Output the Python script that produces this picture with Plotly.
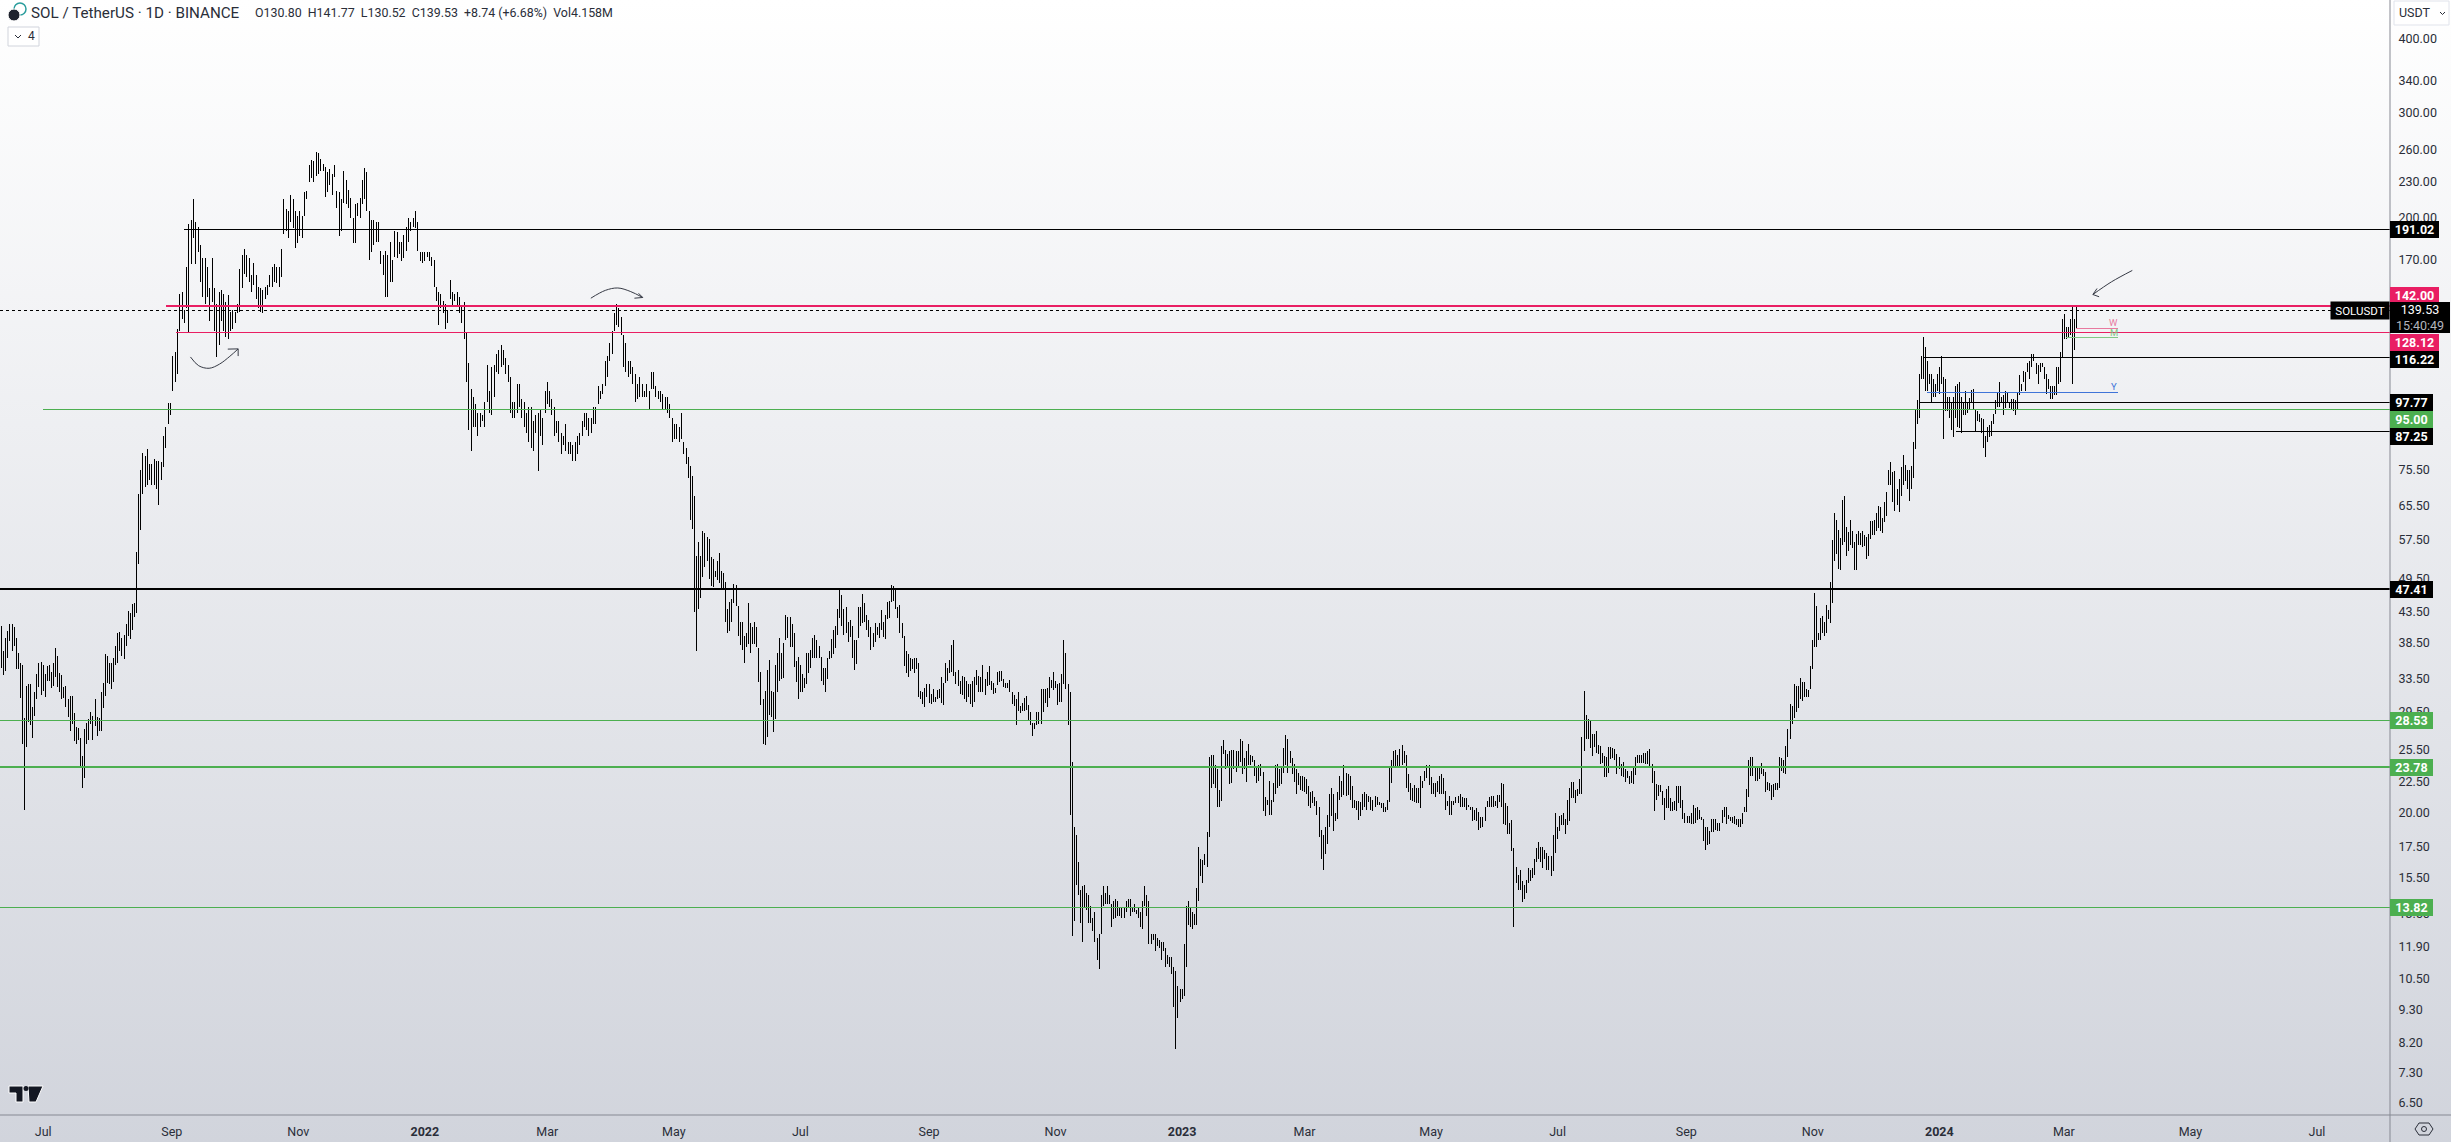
import numpy as np
import pandas as pd
import plotly.graph_objects as go

# ---------- price bars, in stretches of time ----------
H_2021A = [41.2,37.4,39.2,40.4,41.5,41.5,41.0,39.3,37.1,35.7,35.3,28.8,32.6,32.8,32.8,30.1,31.9,34.2,35.6,35.8,35.4,34.2,35.2,35.3,34.4,35.6,37.8,36.6,34.3,34.0,32.5,32.6,31.0,31.4,31.4,29.4,27.8,27.7,26.7,24.9,27.6,28.2,28.7,29.5,29.0,31.0,28.9,28.8,31.8,33.0,36.9,36.6,35.7,35.7,36.4,38.0,40.1,40.2,39.3,39.7,41.5,43.6,43.3,44.8,44.9,54.8,68.5,75.2]
L_2021A = [35.0,34.0,34.5,36.4,38.8,37.3,38.0,34.8,34.8,31.1,26.0,20.2,25.7,28.4,28.0,26.7,29.0,31.0,32.5,31.5,32.0,31.2,33.2,33.3,32.3,32.6,33.7,32.5,31.9,31.0,31.1,30.0,28.9,27.4,28.1,26.3,26.0,26.4,23.9,22.0,22.8,26.0,26.5,28.1,26.5,27.9,26.9,27.4,27.4,29.9,31.4,33.0,32.8,32.2,33.1,35.4,35.6,37.3,36.6,36.2,38.0,39.5,39.1,40.5,42.6,43.3,52.3,59.7]

H_2021B = [80.5,79.5,81.5,77,77,78.5,78,78,77.5,86,89,97.7,97.7,117,119,130,149,150,140,165,195,198,215,197,193,180,171,171,165,152,171,152,143,150,151,149,144,148,139,140,139,143,164,173,177,173,171,160,168,160,153,152,151,153,154,160,165,167,165,165,177,215,207,205,218,215,205,201,205,201,221,222,245,250,249,258,257,251,246,243,239,241,237,245,222,221,215,240,231,223,216,200,211,212,216,231,242,239,205,198,198,197,197,176,173,176,173,182,170,190,189,182,182,187,193,200,197,200,205,197,175,175,175,175,175,172,170,153,150,149,145,143,140,157,150,149,150,147,142,144,128,114,103,100,97,94,94,93,98,113,102,112,113,118,120,122,120,116,113,108,98,98,105,105,99,98,94,96,96,91,93,94,95,92,102,106,102,99,96,91,91,87,86,90,84,84,83,84,86,87,91,94,94,92,92,96,96,104,102,105,115,117,123,129,138,143,141,136,127,123,115,115,112,109,105,108,105,102,105,102,110,110,104,102,102,101,100,100,97,92,90,90,89,94,84,82,79]
L_2021B = [68.7,70.4,71,72.5,71,71,70,65.7,72.5,76,82,90,93,102,106,109,129,135,133,141,128,167,185,167,175,156,147,143,147,134,144,129,116.6,122,134,129,126,125,129,130,133,138,139,152,161,159,156,150,154,146,141,139,138,146,148,153,153,156,155,153,159,188,190,185,197,192,178,181,186,185,201,215,230,233,230,235,237,240,240,217,221,227,218,234,208,186,190,212,211,208,200,181,181,201,200,211,215,205,170,175,180,182,182,167,160,147,147,156,156,172,171,174,169,171,176,182,190,193,192,176,169,168,169,172,169,166,153,145,132,141,138,130,133,146,142,145,142,138,133,125,106,88,81,89,89,86,89,91,89,98,94,93,100,110,109,112,113,109,106,94,92,92,94,96,92,89,87,84,82,81,87,75,86,83,94,97,96,93,86,87,84,80,83,81,80,80,78,78,80,83,86,89,88,86,87,90,90,97,99,101,104,108,115,118,129,132,131,127,112,110,108,109,105,98,99,100,100,100,100,95,103,103,100,99,98,95,95,94,92,84,85,85,84,85,80,77,73]

H_2022 = [76.5,73.6,68,54,57,54,59.5,59,58,57.7,53.8,53.4,50.9,53,54.5,50.8,50.5,48.8,44,45.1,45.7,48.4,48.2,44.5,41.7,41.7,39.5,40.1,45,41.6,41,41.8,41,37.8,34.4,31,32,34.7,36,32,31.9,35.3,37,39.2,37,38.5,43,42.6,42.6,41.4,40.1,35.9,36.5,35.3,34.2,33.6,37,37,37.5,39.2,39.7,38.9,38.1,36.5,35,34.9,36.3,37.3,39.1,40.5,41.2,44,47.4,46.3,44,44.3,41.8,42.1,41.2,38.9,39,44.3,44.3,46.6,45,43,42.1,41,40.1,41.6,41,41.6,43.7,41.7,43,45.2,45.4,48.2,48,47.5,44.3,44.7,41.6,39.5,37.3,36.9,36.4,36.2,36.4,36.4,35.6,32,31.9,32.4,32.8,32.8,31.6,32.2,31.2,32.1,32.2,33.8,33,35.7,35,36,38.2,38.9,34.4,34.7,33.2,33.9,33.8,33.2,32.8,32.8,33.3,33.8,34.7,33.9,33.8,35.3,33.5,34.4,35.2,33.2,33,32.4,34.4,34.5,34.6,33.5,33,33,33.4,31.9,31.5,31,31.8,30.2,30.5,31.1,31.4,30.3,29.5,28.3,28.3,29.5,29.5,32.2,32.2,32.2,32.4,33.8,33.4,34.4,33.3,32.8,33,34.1,38.9,37,32.8]
L_2022 = [62,60,43.4,37.3,44,45.8,49.8,51.7,52.9,49.4,48,47.8,49.7,49.1,48.5,47.2,47.2,41.8,40,40.3,41.8,44.9,44.5,39.6,38.2,37.5,35.6,37.9,38.4,37,38.4,38.4,37.9,33.1,30.3,26,25.9,26.8,29.1,28.9,27.3,28.7,31.8,33.3,33.5,33.6,38.9,39.2,37.9,37.9,35.1,33.1,31,31.9,31.9,32.4,32.8,34.3,35,36.4,36.4,36.4,36.4,33.2,32.7,31.9,33.5,36.2,36.4,36.9,37.7,39.7,42.5,41.2,39.7,40,38.6,39.4,36.4,34.7,35.5,39.2,41.2,41.6,41.8,40.5,39.4,37.5,37.9,38.6,39.7,39.2,40.5,39.4,39.1,42.2,42.5,45.2,45.4,44,42.5,40.1,39.2,35.2,34.3,33.8,34.6,34.8,34.3,34.8,31.2,31,30.4,30,31.2,30.5,30.4,30.7,30.7,31,31.1,30.5,30.3,33,33.3,34.3,34.4,33.9,32.8,32.6,31.6,31.5,31,30.7,31.2,30.4,30.1,30.7,32.7,31.8,31.8,31.8,31.5,32.6,32.7,32.1,31.6,31.7,32.7,33.1,33.3,32.5,32.4,32.3,31.8,30.4,30.2,28,29.6,29.4,29.6,29.6,29.7,28.5,28,26.9,27.6,28,28.1,28.1,29.5,30.5,30.1,31.1,32.3,32.1,32.3,30.3,30.7,30.7,32.8,32.2,28]

H_2023A = [31.8,24.3,18.9,18.3,16.5,14.8,15,15.1,14.6,14.5,13.9,13.3,13.6,12.3,12.5,14.5,15,14.6,15,14.5,14,14.2,14.3,14.2,13.8,13.8,13.8,14.2,14.3,14.3,13.8,14,13.7,13.8,13.6,14.2,15,14.5,14.2,12.5,12.5,12.5,12.3,12.2,12.1,12.1,11.8,11.5,11.4,11.4,11,10.8,10.2,10.1,10.1,12,13.9,14.2,13.8,13.6,13.5,14.9,17.5,16.7,16.6,17,18.5,24.8,25,25,24,23.6,21.8,25.8,26.5,25.4,25.1,25.3,25.4,25.4,25.3,25.3,26.6,26.3,24.7,25.3,26,25,24.9,24.5,23.7,24,24.1,23.4,21.2,21,22.6,21,22.4,24,24.1,23.6,23.9,25.6,27,26.6,25.3,24.7,24.1,23.6,23.3,23,23,22.9,22.7,22.1,21.6,21.7,21.2,20.9,20.4,18.7,18.3,18.9,19.8,21.5,22,21.5,19.9,21.6,23,22.6,24,23.3,23.2,23,22.1,21,20.9,20.9,20.8,21.5,21.6,21.5,21.3,21.2,21,21.3,21.2,20.8,20.7,20.7,20.4,21,23.7,24.5,25.3,25.4,25,25.5,25.9,25.3,25,23.2,22.4,22,22.2,22,22,23,22.6,23.5,24,24,22.9,22.4,22.4,22.6,23,23.2,22.8,21.7,20.9,21.3,20.9,20.9,21.2,21.3,21.5,21.2,21.1,21.1,20.6,20.4,20.4,20.2,20.3,20,19.6,19.6,20.4,20.9,21.2,21.3,21.3,20.9,21.4]
L_2023A = [19.8,12.4,13.1,15.1,14.5,13,12.1,13.8,13.7,13,13,12.6,12.1,11.3,10.9,12.5,13.9,14,14,14,12.8,13.2,13.3,13.4,13.4,13.3,13.3,13.6,13.8,13.4,13.6,13.6,13.5,13.3,12.8,12.7,13.9,13.4,12,12,12.2,11.7,11.9,11.8,11.3,11.7,11,11.1,11,10.7,9.4,8,9,9.6,9.7,9.8,11,12.9,12.8,12.7,12.9,12.9,14.2,15.6,15.2,16.3,16.2,18.2,22,22.3,22,20.4,20.4,20.9,25.1,23.6,23.7,22.3,22.4,23.6,23.4,23.7,24.3,23.2,23.6,22.5,24,24,24.3,23,22.4,22.6,23,20.1,19.7,20.6,19.8,19.8,20.8,21.5,22,22.1,22.3,23.3,24,23.3,24.2,23.2,22.5,21.5,22.2,21.8,21.7,21.6,21.5,20.5,20.3,20.7,20.5,19.8,18.2,16.7,16,17,17.7,18.9,19.7,18.6,19.3,19.5,21,21.2,21.4,21.3,21.4,21,20.3,20.3,20.2,19.4,19.7,20.2,20.4,20.2,20.8,20.2,20.1,20.4,20.6,20.6,20.3,20,20,20.2,20.8,22.4,23.7,23.7,23.9,23.9,24,24.2,22,21.6,21,20.9,20.8,20.7,20.7,20.3,22,22.6,22.8,22.2,21.5,21.5,21.2,21.6,21.5,21.5,21.5,20.2,20.5,19.8,19.8,20.6,20.7,20.7,20.4,20.4,20.4,20.2,20.4,20.2,19.3,19.4,19.3,18.7,18.8,18.9,19.3,20.4,20.4,20.4,20.4,20.5,20.3]

H_2023B = [21.4,22.4,22.3,20.7,20.5,19.2,19.4,17.4,16.2,15.7,16,15.3,15.1,15.4,16.1,16,16.1,16.7,17.4,17.8,17.5,17.5,17.3,17.1,16.9,16.9,18.3,19.9,18.9,19.7,19.8,19.9,19.5,21,22,22.5,22.5,21.8,21.9,22.7,26.8,32,29.1,28.7,28.6,27.1,27.1,27.4,25.9,25.8,25.2,24.9,24.8,25.7,25.7,25.6,25.5,25.1,24.8,24.1,24.3,23.6,23.5,23,23.5,23.7,24.8,25,25,25,25.2,25.2,25.3,25.5,24.1,23.5,22.3,22.2,22.2,21.7,21.1,21.9,22.1,21.1,20.8,20.9,22.1,22.1,22.1,21,19.9,19.7,19.7,19.9,20.6,20.3,20.4,20.2,19.6,19.5,18.9,18.9,18.6,19.5,19.5,19.5,19.2,19.2,20.2,20.4,20.4,19.8,19.6,19.6,19.7,19.5,19.5,19.5,19.9,20.4,21.9,24.5,24.8,24.8,23.9,23.9,23.8,24.2,23.6,23.4,22.5,22.4,22.2,22.3,22.4,22.4,24.8,24.7,24.5,25.8,27.6,30.4,30.2,32.9,32.6]
L_2023B = [20.8,20.4,19.1,19,18.4,18.4,17.2,12.8,15.2,14.8,14.8,14.1,14.3,14.6,15.2,15.3,15.5,15.7,16.5,16.7,16.5,16.1,16.7,16,16,15.6,15.9,17.1,18,18.6,19,19,18.4,19,19.3,21.1,21.1,20.7,21.3,21.5,21.5,25.3,26.6,26.6,25.6,24.9,25.7,25.2,25.1,24.1,24.2,22.9,22.9,23.3,24.6,24.7,24.5,23.2,23.6,23,22.9,22.5,22.8,22.3,22.4,22.3,23.1,24.2,24.2,24.2,24.2,24.1,24.1,23.9,22.4,20.1,21,21.3,21.6,20.6,19.4,20.3,20.3,20.1,20.1,20.2,20.1,20.7,20.3,19.5,19.2,19.2,19.2,19.1,19.1,19.2,19.4,19.5,19.4,17.9,17.3,17.6,17.7,18.5,18.5,18.7,18.6,18.6,19.2,19.6,19.1,19.5,19.3,19.2,19.1,19,18.9,18.9,19.1,20,20,21.2,23,23,22.6,22.6,22.7,23.2,23,21.6,21.8,21.7,21,21.2,21.8,21.8,22,23.5,23.3,23.2,24.8,26.6,28.1,28.8,29.5]

H_2024 = [32.6,33.6,33.1,33.1,32.2,32.1,35.2,38.9,46.7,44.4,40,42.5,42.7,41.7,44.6,43.7,48.8,57.4,63.8,61.9,59.7,57.8,66.9,68.1,60.3,59.2,62,59.4,57,58.7,59.4,59,59.5,58.6,58,58.7,61.7,61.8,61.9,63.8,65.5,65.3,62.5,66.6,69.2,75.2,77.6,74.6,74.9,69.9,72.7,76.2,79.7,76.8,75.2,75.3,76.3,83.8,95.2,98.7,109,117,126,121,115,109,109,107,105,109,112,117,108,107,100,100,97.6,99.9,104,105,106,99.9,98,102,97.6,99.3,102.6,103,95.2,94.7,93.5,92,91.8,86,89,89.5,91,93.5,98.7,101.9,106,100,100.7,102,101.5,98,99,99,98.7,101.5,108.6,105,110.5,110,114,115,118,118,114,113,114,114,112,109,107,104,104,104,112,112,119,135,137.6,131,131,135,142.5,135,141.77]
L_2024 = [29.9,31,30.8,31.3,31.2,31.2,32.2,34.8,37.9,37.9,38.9,38.9,40,39.6,40,42.3,41.6,45,53,54.4,51.2,51,56.2,56.9,54,55.1,56.2,55.6,51,51,56.3,56.3,55.8,56.1,53.4,53.9,57.7,58.4,58.6,59.4,60.1,59.5,59,61.6,63.1,71,71,66.5,64.1,65.6,63.9,68,71,72,70,66.7,70,73,81.5,90,92,107,107,102,102,105,97.5,100,100,102,101,105,85,94.6,94.6,92,88,85.4,92,88.9,88.7,87,93,93.3,93.9,95,98,95.4,87.3,91,90.5,87,81.9,79,83.9,85.4,85.9,89.9,93.4,95.9,96,98,93.2,95.8,97.5,95.6,95,94.4,93.2,95,100.7,102,106,102,110,107,112,115,109,105,110,112,107,101,103,99,99,100.5,100.7,105,106,116.6,125,125,126,127,105,120,130.52]

SEGMENT_DATES = [
    ("2021-06-11", "2021-08-17"), ("2021-08-18", "2022-05-08"), ("2022-05-09", "2022-11-07"),
    ("2022-11-08", "2023-06-02"), ("2023-06-03", "2023-10-24"), ("2023-10-25", "2024-03-07"),
]
SEGMENT_HIGHS = [H_2021A, H_2021B, H_2022, H_2023A, H_2023B, H_2024]
SEGMENT_LOWS = [L_2021A, L_2021B, L_2022, L_2023A, L_2023B, L_2024]

# ---------- levels drawn on the chart ----------
LEVEL_VALUES = [191.02, 142.00, 128.12, 116.22, 97.77, 95.00, 87.25, 47.41, 28.53, 23.78, 13.82]
LEVEL_STARTS = ["2021-09-07", "2021-08-29", "2021-09-03", "2023-12-24", "2023-12-22", "2021-07-01", "2024-01-09",
                "2021-06-01", "2021-06-01", "2021-06-01", "2021-06-01"]
LEVEL_COLORS = ["#000000", "#e91e63", "#e91e63", "#000000", "#000000", "#4caf50", "#000000",
                "#000000", "#4caf50", "#4caf50", "#4caf50"]
LEVEL_WIDTHS = [1, 2, 1, 1, 1, 1, 1, 2, 1, 2, 1]

SHORT_LABELS = ["W", "M", "Y"]
SHORT_VALUES = [130.0, 125.6, 101.7]
SHORT_STARTS = ["2024-03-07", "2024-03-02", "2023-12-26"]
SHORT_END = "2024-03-27"
SHORT_COLORS = ["#e8799f", "#81c784", "#3f74d8"]

CURRENT_PRICE = 139.53
X_START, X_END = "2021-06-10 05:00", "2024-08-05 05:00"

Y_TICKS = [400, 340, 300, 260, 230, 200, 170, 75.5, 65.5, 57.5, 49.5, 43.5, 38.5, 33.5, 29.5, 25.5, 22.5,
           20, 17.5, 15.5, 13.5, 11.9, 10.5, 9.3, 8.2, 7.3, 6.5]
X_TICKS = ["2021-07-01", "2021-09-01", "2021-11-01", "2022-01-01", "2022-03-01", "2022-05-01", "2022-07-01",
           "2022-09-01", "2022-11-01", "2023-01-01", "2023-03-01", "2023-05-01", "2023-07-01", "2023-09-01",
           "2023-11-01", "2024-01-01", "2024-03-01", "2024-05-01", "2024-07-01"]
X_LABELS = ["Jul", "Sep", "Nov", "<b>2022</b>", "Mar", "May", "Jul", "Sep", "Nov", "<b>2023</b>", "Mar", "May", "Jul",
            "Sep", "Nov", "<b>2024</b>", "Mar", "May", "Jul"]

# hand-drawn arrows
ARROW1_X = ["2021-09-10", "2021-09-14", "2021-09-19", "2021-09-24", "2021-09-29", "2021-10-03"]
ARROW1_Y = [116.6, 112.7, 111.6, 113.4, 116.9, 120.3]
ARROW1_HEAD_X = ["2021-09-28", "2021-10-03", "2021-10-03"]
ARROW1_HEAD_Y = [120.2, 120.3, 117.0]
ARROW2_X = ["2022-03-22", "2022-03-29", "2022-04-04", "2022-04-10", "2022-04-16"]
ARROW2_Y = [146.4, 150.9, 152.3, 150.3, 146.8]
ARROW2_HEAD_X = ["2022-04-12", "2022-04-16", "2022-04-14"]
ARROW2_HEAD_Y = [146.4, 146.8, 149.2]
ARROW3_X = ["2024-04-03", "2024-03-24", "2024-03-15"]
ARROW3_Y = [163, 156, 148.5]
ARROW3_HEAD_X = ["2024-03-18", "2024-03-15", "2024-03-17"]
ARROW3_HEAD_Y = [147.2, 148.5, 152]

# ---------- figure ----------
W, H, PW, PH = 2451, 1142, 2390, 1115
FONT = "Roboto"
TEXT = "#2a2e39"
px = lambda v: v / PW
py = lambda v: 1 - v / PH

fig = go.Figure()
dates = []
for (a, b), hs in zip(SEGMENT_DATES, SEGMENT_HIGHS):
    dates.extend(pd.date_range(a, b, periods=len(hs)))
highs = sum(SEGMENT_HIGHS, [])
lows = sum(SEGMENT_LOWS, [])
fig.add_trace(go.Ohlc(x=dates, open=lows, high=highs, low=lows, close=highs, tickwidth=0,
                      increasing=dict(line=dict(color="#000000", width=1)),
                      decreasing=dict(line=dict(color="#000000", width=1)), showlegend=False))

def hline(x0, x1, v, color, width, dash="solid"):
    fig.add_trace(go.Scatter(x=[x0, x1], y=[v, v], mode="lines", showlegend=False,
                             line=dict(color=color, width=width, dash=dash)))

hline(X_START, X_END, CURRENT_PRICE, "#000000", 1, "dot")
for v, s, c, w in zip(LEVEL_VALUES, LEVEL_STARTS, LEVEL_COLORS, LEVEL_WIDTHS):
    hline(s, X_END, v, c, w)
for v, s, c in zip(SHORT_VALUES, SHORT_STARTS, SHORT_COLORS):
    hline(s, SHORT_END, v, c, 1)

for cx, cy, hx, hy in [(ARROW1_X, ARROW1_Y, ARROW1_HEAD_X, ARROW1_HEAD_Y),
                       (ARROW2_X, ARROW2_Y, ARROW2_HEAD_X, ARROW2_HEAD_Y),
                       (ARROW3_X, ARROW3_Y, ARROW3_HEAD_X, ARROW3_HEAD_Y)]:
    fig.add_trace(go.Scatter(x=cx, y=cy, mode="lines", showlegend=False,
                             line=dict(color="#363a45", width=1, shape="spline")))
    fig.add_trace(go.Scatter(x=hx, y=hy, mode="lines", showlegend=False, line=dict(color="#363a45", width=1)))

ann = []
def box(value, text, bg, shift=0, width=49, height=17, color="#ffffff"):
    ann.append(dict(xref="paper", yref="y", x=1, y=float(np.log10(value)), xanchor="left", yanchor="middle",
                    yshift=shift, text=text, showarrow=False, bgcolor=bg, width=width, height=height,
                    align="center", valign="middle", borderpad=0, borderwidth=0,
                    font=dict(family=FONT, size=12.5, color=color)))

box(191.02, "<b>191.02</b>", "#000000")
box(142.00, "<b>142.00</b>", "#e91e63", shift=11)
box(128.12, "<b>128.12</b>", "#e91e63", shift=-10)
box(116.22, "<b>116.22</b>", "#000000", shift=-2)
box(97.77, "<b>97.77</b>", "#000000", width=43)
box(95.00, "<b>95.00</b>", "#4caf50", shift=-10, width=43)
box(87.25, "<b>87.25</b>", "#000000", shift=-5, width=43)
box(47.41, "<b>47.41</b>", "#000000", width=43, height=17)
box(28.53, "<b>28.53</b>", "#4caf50", width=43, height=17)
box(23.78, "<b>23.78</b>", "#4caf50", width=43, height=17)
box(13.82, "<b>13.82</b>", "#4caf50", width=43, height=17)
box(CURRENT_PRICE, "139.53<br><span style='color:#b2b5be'>15:40:49</span>", "#000000", shift=-7, width=60, height=31)
ann.append(dict(xref="paper", yref="y", x=1, y=float(np.log10(CURRENT_PRICE)), xanchor="right", yanchor="middle",
                yshift=0, text="SOLUSDT", showarrow=False, bgcolor="#000000", width=58, height=17, borderpad=0,
                font=dict(family=FONT, size=11.5, color="#ffffff")))

for lab, v, c in zip(SHORT_LABELS, SHORT_VALUES, SHORT_COLORS):
    ann.append(dict(xref="x", yref="y", x="2024-03-25", y=float(np.log10(v)), yshift=6 if lab != "M" else 5,
                    text=lab, showarrow=False, font=dict(family=FONT, size=9.5, color=c)))

def label(x, y, text, size, color=TEXT, anchor="left"):
    ann.append(dict(xref="paper", yref="paper", x=px(x), y=py(y), xanchor=anchor, yanchor="middle", text=text,
                    showarrow=False, borderpad=0, font=dict(family=FONT, size=size, color=color)))

label(30, 12.5, "SOL / TetherUS · 1D · BINANCE", 15.2)
label(254, 12.5, "O130.80  H141.77  L130.52  C139.53  +8.74 (+6.68%)  Vol4.158M", 12.4)
label(27, 36, "4", 12)
label(2398, 12.5, "USDT", 12.5)

shapes = [
    dict(type="line", xref="paper", yref="paper", x0=0, x1=px(W), y0=py(PH), y1=py(PH), line=dict(color="#868993", width=1)),
    dict(type="line", xref="paper", yref="paper", x0=1, x1=1, y0=1, y1=py(H), line=dict(color="#868993", width=1)),
    # ticker icon
    dict(type="circle", xref="paper", yref="paper", x0=px(14), x1=px(26), y0=py(15), y1=py(3), line=dict(color="#2a9d9d", width=1.5)),
    dict(type="circle", xref="paper", yref="paper", x0=px(8), x1=px(20), y0=py(21), y1=py(9), fillcolor="#1e222d", line=dict(color="#ffffff", width=1)),
    # collapse button
    dict(type="rect", xref="paper", yref="paper", x0=px(8), x1=px(39), y0=py(46), y1=py(27), fillcolor="#ffffff", line=dict(color="#d1d4dc", width=1), layer="below"),
    dict(type="path", xref="paper", yref="paper", path=f"M {px(15)} {py(35)} L {px(18)} {py(38)} L {px(21)} {py(35)}", line=dict(color="#2a2e39", width=1)),
    # currency button
    dict(type="rect", xref="paper", yref="paper", x0=px(2394), x1=px(2449), y0=py(25), y1=py(1), fillcolor="#ffffff", line=dict(color="#e0e3eb", width=1), layer="below"),
    dict(type="path", xref="paper", yref="paper", path=f"M {px(2440)} {py(12)} L {px(2442.5)} {py(14.5)} L {px(2445)} {py(12)}", line=dict(color="#2a2e39", width=1)),
    # eye icon
    dict(type="path", xref="paper", yref="paper", path=f"M {px(2415)} {py(1129)} L {px(2419)} {py(1123)} L {px(2429)} {py(1123)} L {px(2433)} {py(1129)} L {px(2429)} {py(1135)} L {px(2419)} {py(1135)} Z", line=dict(color="#2a2e39", width=1)),
    dict(type="circle", xref="paper", yref="paper", x0=px(2421.5), x1=px(2426.5), y0=py(1131.5), y1=py(1126.5), line=dict(color="#2a2e39", width=1)),
    # watermark logo
    dict(type="path", xref="paper", yref="paper", path=f"M {px(9)} {py(1086)} L {px(23)} {py(1086)} L {px(23)} {py(1102)} L {px(16)} {py(1102)} L {px(16)} {py(1093)} L {px(9)} {py(1093)} Z", fillcolor="#131722", line=dict(color="#ffffff", width=1)),
    dict(type="path", xref="paper", yref="paper", path=f"M {px(28)} {py(1086)} L {px(43)} {py(1086)} L {px(36)} {py(1102)} L {px(29)} {py(1102)} Z", fillcolor="#131722", line=dict(color="#ffffff", width=1)),
    dict(type="circle", xref="paper", yref="paper", x0=px(23.5), x1=px(28.5), y0=py(1091), y1=py(1086), fillcolor="#131722", line=dict(color="#ffffff", width=0)),
]

gradient = ("data:image/svg+xml;charset=utf-8,"
            "%3Csvg xmlns='http://www.w3.org/2000/svg' width='10' height='100' preserveAspectRatio='none'%3E"
            "%3Cdefs%3E%3ClinearGradient id='g' x1='0' y1='0' x2='0' y2='1'%3E"
            "%3Cstop offset='0' stop-color='%23ffffff'/%3E%3Cstop offset='1' stop-color='%23d1d4dc'/%3E"
            "%3C/linearGradient%3E%3C/defs%3E%3Crect width='10' height='100' fill='url(%23g)'/%3E%3C/svg%3E")

fig.update_layout(
    width=W, height=H, margin=dict(l=0, r=W - PW, t=0, b=H - PH), autosize=False,
    paper_bgcolor="#d1d4dc", plot_bgcolor="rgba(0,0,0,0)", showlegend=False, hovermode=False,
    font=dict(family=FONT, size=12, color=TEXT),
    annotations=ann, shapes=shapes,
    images=[dict(source=gradient, xref="paper", yref="paper", x=0, y=1, sizex=W / PW, sizey=H / PH,
                 sizing="stretch", xanchor="left", yanchor="top", layer="below")],
    xaxis=dict(type="date", range=[X_START, X_END], showgrid=False, zeroline=False, showline=False,
               rangeslider=dict(visible=False), tickmode="array", tickvals=X_TICKS, ticktext=X_LABELS,
               ticks="outside", ticklen=5, tickcolor="rgba(0,0,0,0)", tickfont=dict(family=FONT, size=12.5, color=TEXT)),
    yaxis=dict(type="log", side="right", range=[float(np.log10(6.19)), float(np.log10(464.6))], showgrid=False,
               zeroline=False, showline=False, tickmode="array", tickvals=Y_TICKS,
               ticktext=[f"{v:.2f}" for v in Y_TICKS], ticks="outside", ticklen=5, tickcolor="rgba(0,0,0,0)",
               tickfont=dict(family=FONT, size=12.5, color=TEXT)),
)

CRISP = """
document.body.style.margin='0';document.documentElement.style.overflow='hidden';
document.querySelectorAll('.ohlc path').forEach(function(p){p.style.shapeRendering='crispEdges';});
document.querySelectorAll('.scatterlayer .js-line').forEach(function(p){
  var m=(p.getAttribute('d')||'').match(/^M([-\\d.]+),([-\\d.]+)L([-\\d.]+),([-\\d.]+)$/);
  if(m&&m[2]===m[4]){p.style.shapeRendering='crispEdges';}
});
"""
fig.write_html("out.html", config=dict(displayModeBar=False), post_script=CRISP)
